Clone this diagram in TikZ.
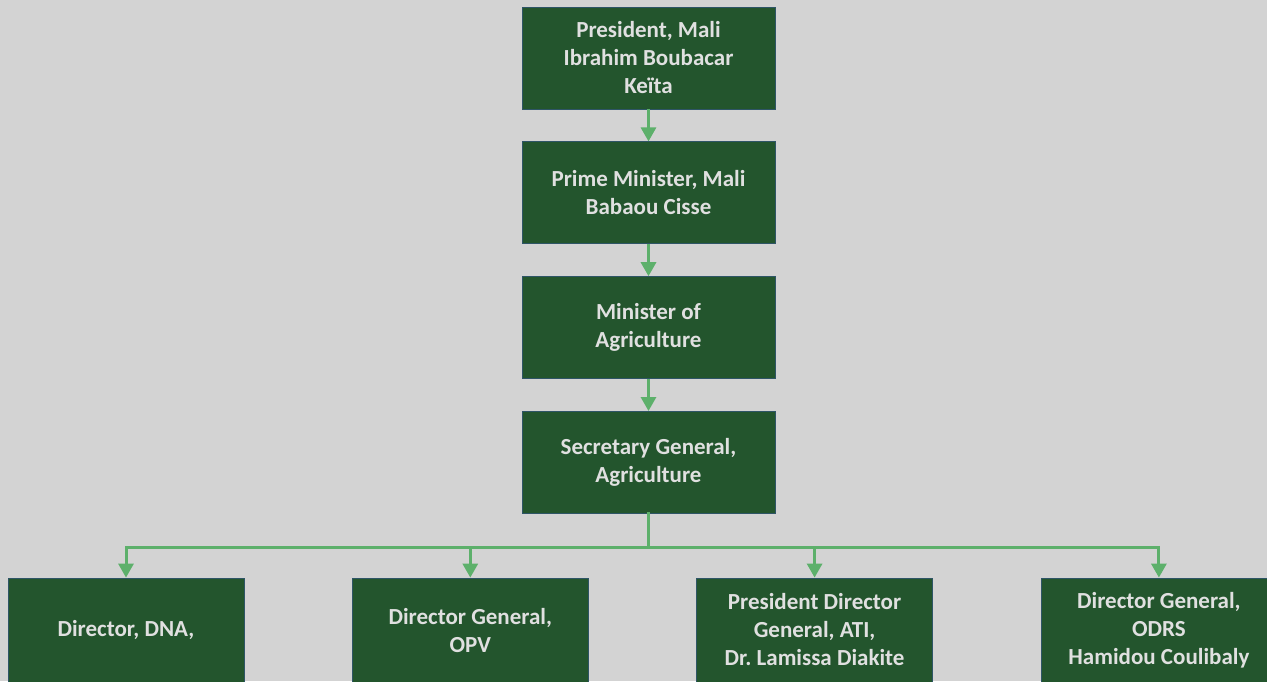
\documentclass[tikz,border=0pt]{standalone}
\usepackage{fontspec}
\setmainfont{Carlito}
\usetikzlibrary{positioning,arrows.meta}
\definecolor{boxgreen}{HTML}{23552D}
\definecolor{boxedge}{HTML}{2E5566}
\definecolor{linkgreen}{HTML}{5DB06B}
\definecolor{paper}{HTML}{D3D3D3}
\tikzset{
  orgfont/.style={font=\fontsize{23}{28}\selectfont\bfseries},
  office/.style={
    draw=boxedge, line width=0.8pt, fill=boxgreen, text=white!88!black,
    align=center, orgfont, inner sep=4pt,
    minimum width=253pt, minimum height=102pt,
  },
  unit/.style={office, minimum width=236pt, minimum height=104pt},
  link/.style={draw=linkgreen, line width=3pt, -{Triangle[width=15pt,length=14pt]}},
  bus/.style={draw=linkgreen, line width=3pt, line cap=rect},
}

\begin{document}
\begin{tikzpicture}[x=1pt, y=1pt, node distance=32pt and 107.5pt]

  \fill[paper] (0,0) rectangle (1267,-681);
  \useasboundingbox (0,0) rectangle (1267,-681);

  % chain of command
  \node[office] (pres) at (648.5,-58) {President, Mali\\Ibrahim Boubacar\\Keïta};
  \node[office, below=of pres] (pm) {Prime Minister, Mali\\Babaou Cisse};
  \node[office, below=of pm] (minag) {Minister of\\Agriculture};
  \node[office, below=of minag] (secgen) {Secretary General,\\Agriculture};

  % directorates
  \node[unit] (dna) at (126,-630) {Director, DNA,};
  \node[unit, right=of dna] (opv) {Director General,\\OPV};
  \node[unit, right=of opv] (ati) {President Director\\General, ATI,\\Dr.\ Lamissa Diakite};
  \node[unit, right=of ati] (odrs) {Director General,\\ODRS\\Hamidou Coulibaly};

  \draw[link] (pres) -- (pm);
  \draw[link] (pm) -- (minag);
  \draw[link] (minag) -- (secgen);

  \coordinate (busY) at (0,-547);
  \draw[bus] (secgen.south) -- (secgen.south |- busY);
  \draw[bus] (dna.north |- busY) -- (odrs.north |- busY);
  \foreach \u in {dna,opv,ati,odrs}
    \draw[link] (\u.north |- busY) -- (\u.north);

\end{tikzpicture}
\end{document}
